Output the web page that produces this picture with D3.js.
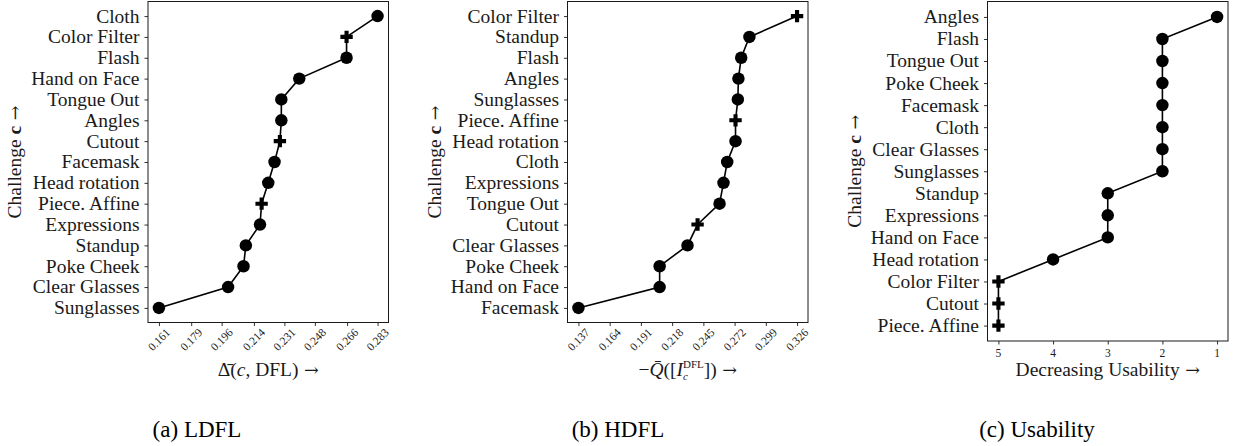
<!DOCTYPE html>
<html lang="en">
<head>
    <meta charset="UTF-8">
    <title>Challenge rankings</title>
    <style>
        body {
            margin: 0;
            background-color: #fff;
        }
        svg text {
            font-family: "Liberation Serif", "DejaVu Serif", serif;
            fill: #1a1a1a;
        }
        svg text .arrow {
            font-family: "DejaVu Serif", serif;
        }
    </style>
    <script src="https://d3js.org/d3.v7.min.js"></script>
</head>
<body>
    <svg id="chart" width="1233" height="446"></svg>
    <script>
        // Categories listed bottom -> top
        const ldflCats = ["Sunglasses", "Clear Glasses", "Poke Cheek", "Standup", "Expressions", "Piece. Affine",
            "Head rotation", "Facemask", "Cutout", "Angles", "Tongue Out", "Hand on Face", "Flash", "Color Filter", "Cloth"];
        const ldflVals = [0.161, 0.1996, 0.2082, 0.2095, 0.2174, 0.2183, 0.2220, 0.2255, 0.2285, 0.2293, 0.2293,
            0.2393, 0.2657, 0.2657, 0.283];
        const ldflTicks = [0.161, 0.179, 0.196, 0.214, 0.231, 0.248, 0.266, 0.283];

        const hdflCats = ["Facemask", "Hand on Face", "Poke Cheek", "Clear Glasses", "Cutout", "Tongue Out", "Expressions",
            "Cloth", "Head rotation", "Piece. Affine", "Sunglasses", "Angles", "Flash", "Standup", "Color Filter"];
        const hdflVals = [0.137, 0.2072, 0.2072, 0.2313, 0.2400, 0.2590, 0.2624, 0.2656, 0.2728, 0.2728, 0.2748,
            0.2753, 0.2777, 0.2848, 0.326];
        const hdflTicks = [0.137, 0.164, 0.191, 0.218, 0.245, 0.272, 0.299, 0.326];

        const usabCats = ["Piece. Affine", "Cutout", "Color Filter", "Head rotation", "Hand on Face", "Expressions",
            "Standup", "Sunglasses", "Clear Glasses", "Cloth", "Facemask", "Poke Cheek", "Tongue Out", "Flash", "Angles"];
        const usabVals = [5, 5, 5, 4, 3, 3, 3, 2, 2, 2, 2, 2, 2, 2, 1];
        const usabTicks = [5, 4, 3, 2, 1];

        // challenges drawn with a plus marker
        const plusCats = ["Color Filter", "Cutout", "Piece. Affine"];

        const captions = ["(a) LDFL", "(b) HDFL", "(c) Usability"];

        const svg = d3.select('#chart');
        const fs = 19.5;

        function addArrow(t) {
            t.append('tspan').attr('class', 'arrow').attr('font-size', fs - 2).text(' →');
        }

        function drawPanel(opt) {
            const g = svg.append('g');
            const n = opt.cats.length;
            const data = opt.cats.map((c, i) => ({ cat: c, val: opt.vals[i], idx: i }));

            // 5% margins like matplotlib
            const lo = d3.min(opt.vals), hi = d3.max(opt.vals);
            const pad = (hi - lo) * 0.05;
            const xDomain = opt.reverse ? [hi + pad, lo - pad] : [lo - pad, hi + pad];
            const x = d3.scaleLinear().domain(xDomain).range([opt.left, opt.right]);
            const y = d3.scaleLinear().domain([-0.7, n - 1 + 0.7]).range([opt.bottom, opt.top]);

            // x ticks
            g.append('g')
                .attr('transform', `translate(0,${opt.bottom})`)
                .call(d3.axisBottom(x).tickValues(opt.ticks).tickSize(3.5).tickFormat(''))
                .call(a => a.select('.domain').remove())
                .selectAll('line').attr('stroke', '#1a1a1a').attr('stroke-width', 0.9);

            // y ticks
            g.append('g')
                .attr('transform', `translate(${opt.left},0)`)
                .call(d3.axisLeft(y).tickValues(d3.range(n)).tickSize(3.5).tickFormat(''))
                .call(a => a.select('.domain').remove())
                .selectAll('line').attr('stroke', '#1a1a1a').attr('stroke-width', 0.9);

            g.selectAll('.ylab')
                .data(data)
                .enter().append('text')
                .attr('x', opt.left - 8.5)
                .attr('y', d => y(d.idx))
                .attr('dy', '0.33em')
                .attr('text-anchor', 'end')
                .attr('font-size', fs)
                .text(d => d.cat);

            // x tick labels
            if (opt.rotate) {
                g.selectAll('.xlab')
                    .data(opt.ticks)
                    .enter().append('text')
                    .attr('transform', d => `translate(${x(d)},${opt.bottom + 17})rotate(-45)`)
                    .attr('text-anchor', 'middle')
                    .attr('dy', '0.35em')
                    .attr('font-size', 11.5)
                    .text(d => d.toFixed(3));
            } else {
                g.selectAll('.xlab')
                    .data(opt.ticks)
                    .enter().append('text')
                    .attr('x', d => x(d))
                    .attr('y', opt.bottom + 16)
                    .attr('text-anchor', 'middle')
                    .attr('font-size', 11.5)
                    .text(d => d);
            }

            // frame
            g.append('rect')
                .attr('x', opt.left).attr('y', opt.top)
                .attr('width', opt.right - opt.left).attr('height', opt.bottom - opt.top)
                .attr('fill', 'none').attr('stroke', '#1a1a1a').attr('stroke-width', 1);

            // line
            g.append('path')
                .datum(data)
                .attr('fill', 'none')
                .attr('stroke', '#000')
                .attr('stroke-width', 1.6)
                .attr('d', d3.line().x(d => x(d.val)).y(d => y(d.idx)));

            // markers
            g.selectAll('.mark')
                .data(data)
                .enter().append('path')
                .attr('transform', d => `translate(${x(d.val)},${y(d.idx)})`)
                .attr('fill', '#000')
                .attr('d', d => plusCats.includes(d.cat)
                    ? d3.symbol(d3.symbolCross, 85)()
                    : d3.symbol(d3.symbolCircle, 122)());

            // y label
            const yl = g.append('text')
                .attr('transform', `translate(${opt.left - 133},${(opt.top + opt.bottom) / 2})rotate(-90)`)
                .attr('text-anchor', 'middle')
                .attr('dy', '0.33em')
                .attr('font-size', fs);
            yl.append('tspan').text('Challenge ');
            yl.append('tspan').attr('font-weight', 'bold').text('c');
            addArrow(yl);

            // x label
            const xl = g.append('text')
                .attr('x', (opt.left + opt.right) / 2)
                .attr('y', 376)
                .attr('text-anchor', 'middle')
                .attr('font-size', fs);
            opt.xlabel(xl);
            addArrow(xl);

            // caption
            svg.append('text')
                .attr('x', opt.capX)
                .attr('y', 437)
                .attr('text-anchor', 'middle')
                .attr('font-size', 23)
                .style('fill', '#000')
                .text(opt.caption);
        }

        drawPanel({
            cats: ldflCats, vals: ldflVals, ticks: ldflTicks, rotate: true,
            left: 148, right: 388.5, top: 1.5, bottom: 322.5,
            caption: captions[0], capX: 197,
            xlabel: t => {
                t.append('tspan').text('Δ\u0304(');
                t.append('tspan').attr('font-style', 'italic').text('c');
                t.append('tspan').text(', DFL)');
            }
        });

        drawPanel({
            cats: hdflCats, vals: hdflVals, ticks: hdflTicks, rotate: true,
            left: 567.5, right: 808, top: 1.5, bottom: 322.5,
            caption: captions[1], capX: 618,
            xlabel: t => {
                t.append('tspan').text('−');
                t.append('tspan').attr('font-style', 'italic').text('Q\u0304');
                t.append('tspan').text('([');
                t.append('tspan').attr('font-style', 'italic').text('I');
                t.append('tspan').attr('font-size', 11).attr('dy', 4).attr('font-style', 'italic').text('c');
                t.append('tspan').attr('font-size', 11).attr('dx', -5).attr('dy', -12).text('DFL');
                t.append('tspan').attr('dy', 8).text('])');
            }
        });

        drawPanel({
            cats: usabCats, vals: usabVals, ticks: usabTicks, rotate: false, reverse: true,
            left: 987.5, right: 1228, top: 1.5, bottom: 341,
            caption: captions[2], capX: 1037,
            xlabel: t => {
                t.append('tspan').text('Decreasing Usability');
            }
        });
    </script>
</body>
</html>
